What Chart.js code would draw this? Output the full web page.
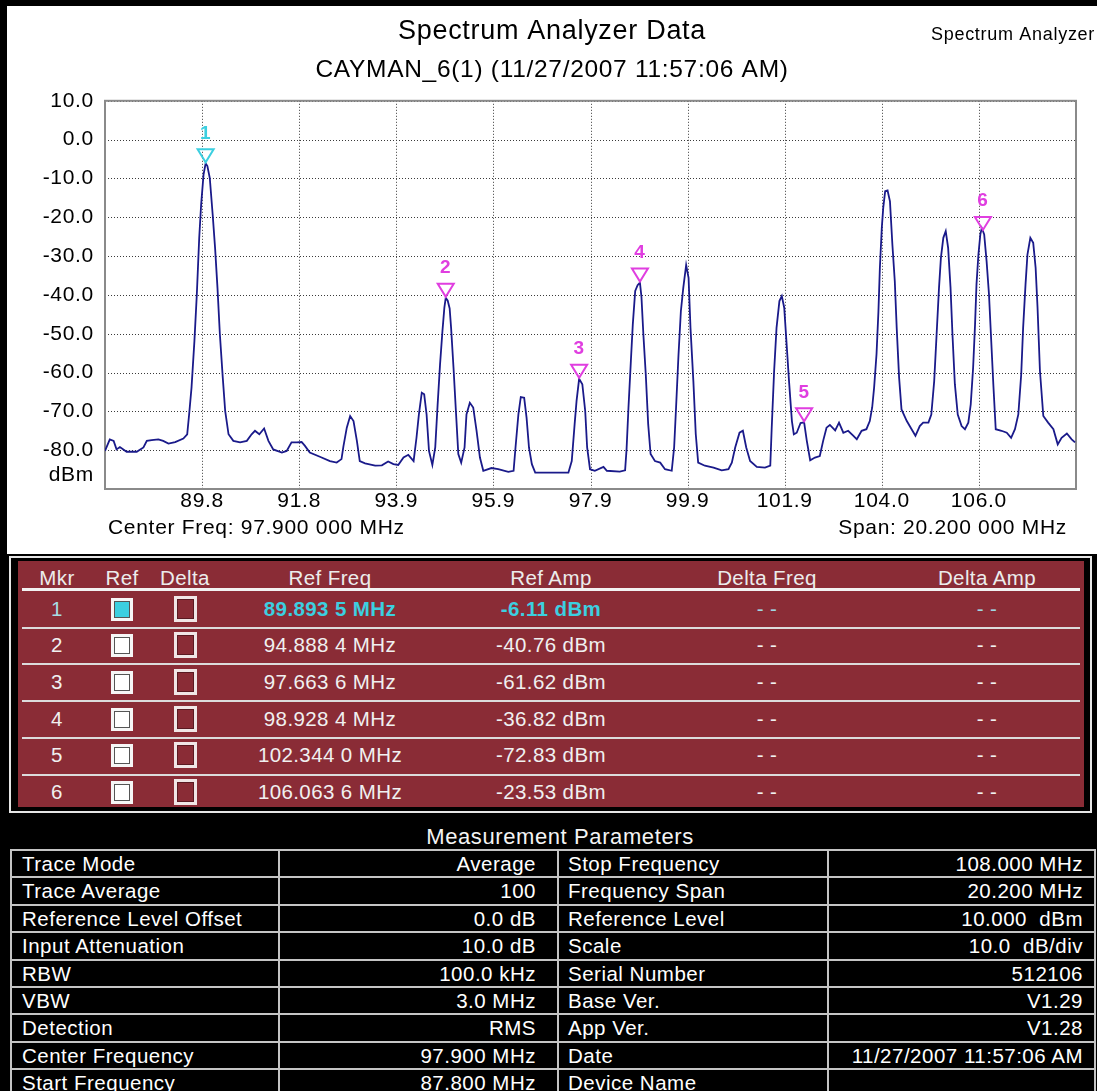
<!DOCTYPE html>
<html><head><meta charset="utf-8">
<script src="https://cdn.jsdelivr.net/npm/chart.js@4/dist/chart.umd.min.js"></script>
<style>
html,body{margin:0;padding:0;background:#000;width:1097px;height:1091px;overflow:hidden;font-family:"Liberation Sans",Arial,sans-serif;}
#chartBox{position:absolute;left:7px;top:6px;width:1090px;height:548px;background:#fff;}
#mk{position:absolute;left:9px;top:556px;width:1079px;height:253px;border:2px solid #e6e6e6;}
#mkIn{position:absolute;left:7px;top:3px;width:1066px;height:246px;background:#8a2c36;}
.c{position:absolute;text-align:center;white-space:pre;color:#f0f0f0;font-size:20.5px;letter-spacing:0.4px;}
.ln{position:absolute;background:#dcdcdc;}
.cb{position:absolute;box-sizing:border-box;}
.pc{position:absolute;white-space:pre;color:#fff;font-size:20.5px;letter-spacing:0.5px;}
.pl{position:absolute;background:#c4c4c4;}
</style>
</head><body>
<div id="chartBox"><canvas id="chart" width="1090" height="548"></canvas></div>
<div id="mk"><div id="mkIn"></div></div>
<div id="params"></div>
<script>
// ---------- trace data ----------
const freqMHz = [
87.80,87.90,87.98,88.04,88.11,88.25,88.46,88.60,88.67,88.77,88.91,89.01,89.12,89.26,89.43,89.51,89.55,89.60,89.66,89.71,89.76,89.80,89.85,89.8935,89.93,89.98,
90.04,90.09,90.14,90.19,90.25,90.30,90.37,90.47,90.61,90.75,90.85,90.92,91.01,91.11,91.20,91.30,91.48,91.58,91.68,91.79,91.89,91.96,
92.06,92.27,92.48,92.62,92.72,92.76,92.83,92.90,92.97,93.04,93.10,93.21,93.42,93.56,93.69,93.80,93.90,94.01,94.11,94.22,94.28,94.33,94.39,94.44,94.49,94.54,94.61,94.67,94.72,94.77,94.82,94.86,94.8884,94.93,94.97,
95.00,95.05,95.10,95.15,95.21,95.28,95.32,95.39,95.46,95.53,95.60,95.67,95.84,95.98,96.19,96.30,96.34,96.40,96.45,96.52,96.57,96.62,96.68,96.75,96.95,97.23,97.44,97.51,97.57,97.61,97.6636,97.73,97.79,97.83,97.89,97.99,
98.17,98.24,98.51,98.62,98.65,98.69,98.74,98.78,98.83,98.88,98.9284,98.96,99.00,99.05,99.10,99.15,99.24,99.35,99.45,99.59,99.64,99.68,99.73,99.78,99.83,99.89,99.94,99.98,
100.04,100.09,100.14,100.28,100.46,100.63,100.77,100.84,100.91,101.00,101.07,101.14,101.22,101.36,101.53,101.64,101.67,101.72,101.77,101.83,101.88,101.93,101.98,
102.03,102.09,102.13,102.19,102.27,102.344,102.40,102.47,102.57,102.67,102.74,102.81,102.88,102.99,103.07,103.16,103.26,103.37,103.44,103.54,103.64,103.71,103.76,103.80,103.85,103.89,103.92,103.96,103.99,
104.03,104.08,104.13,104.18,104.23,104.27,104.32,104.37,104.48,104.58,104.66,104.75,104.82,104.93,104.99,105.05,105.10,105.15,105.19,105.24,105.29,105.34,105.39,105.43,105.48,105.54,105.62,105.69,105.76,105.81,105.86,105.90,105.93,105.97,
106.01,106.04,106.0636,106.09,106.14,106.19,106.23,106.28,106.33,106.45,106.56,106.65,106.73,106.80,106.86,106.90,106.95,106.99,107.05,107.11,107.16,107.20,107.25,107.32,107.42,107.53,107.62,107.70,107.81,107.91,107.98
];
const ampDbm = [
-80.2,-77.2,-77.6,-79.8,-79.2,-80.4,-80.4,-79.3,-77.6,-77.4,-77.2,-77.6,-78.3,-77.9,-77.0,-75.9,-70.8,-63.9,-51.9,-39.9,-25.3,-16.7,-9.0,-6.11,-6.8,-9.9,
-19.3,-27.9,-38.2,-50.2,-61.3,-69.9,-75.9,-77.6,-78.0,-77.6,-75.9,-75.0,-75.9,-74.4,-77.6,-79.8,-80.6,-80.2,-78.0,-78.0,-77.9,-78.9,
-80.6,-81.7,-82.8,-83.2,-82.3,-79.0,-74.2,-71.2,-72.5,-77.6,-82.8,-83.4,-84.0,-83.9,-82.9,-83.6,-83.8,-81.9,-81.2,-82.8,-76.8,-70.8,-65.2,-65.6,-70.8,-80.2,-83.8,-79.3,-68.2,-57.9,-49.3,-43.3,-40.76,-41.5,-43.5,
-48.5,-58.7,-69.9,-81.0,-83.2,-79.3,-70.8,-67.8,-69.0,-75.0,-81.9,-85.3,-84.6,-84.9,-85.6,-85.3,-79.3,-70.8,-66.3,-66.5,-71.6,-79.3,-83.6,-85.8,-85.8,-85.8,-85.8,-82.8,-73.3,-67.3,-61.62,-63.0,-69.9,-79.3,-84.9,-85.3,
-84.3,-85.3,-85.5,-85.2,-79.8,-69.0,-57.0,-47.6,-39.0,-37.5,-36.82,-40.5,-50.2,-60.5,-73.3,-81.0,-82.8,-83.2,-84.9,-85.3,-79.3,-69.0,-55.6,-44.2,-38.2,-32.3,-35.6,-48.5,
-62.2,-75.9,-83.2,-84.0,-84.5,-85.2,-84.9,-83.2,-79.3,-75.5,-75.0,-79.3,-82.8,-84.3,-84.5,-84.0,-74.2,-59.6,-48.5,-41.6,-40.3,-43.3,-52.7,
-62.2,-72.5,-75.9,-75.5,-73.0,-72.83,-77.6,-82.6,-81.9,-81.5,-77.6,-74.2,-73.5,-74.9,-72.9,-75.5,-75.0,-76.3,-77.2,-75.0,-74.6,-72.5,-69.0,-63.9,-55.3,-44.2,-33.0,-22.7,-17.6,
-13.3,-13.1,-15.9,-27.0,-36.4,-48.5,-61.3,-69.5,-72.5,-74.6,-76.3,-73.8,-72.9,-72.9,-70.8,-62.2,-50.2,-38.2,-30.4,-25.3,-23.6,-27.9,-38.2,-50.2,-63.0,-70.8,-73.8,-74.6,-72.9,-68.2,-58.7,-47.6,-37.3,-29.6,
-24.4,-22.8,-23.53,-24.4,-31.3,-39.9,-50.2,-63.0,-74.6,-75.0,-75.5,-76.8,-74.6,-70.8,-60.5,-48.5,-37.3,-29.6,-25.3,-26.6,-33.0,-43.3,-59.6,-71.2,-72.9,-74.6,-78.5,-76.8,-75.7,-77.2,-78.0
];

// ---------- axes ----------
const xTickValues = [87.8,89.82,91.84,93.86,95.88,97.9,99.92,101.94,103.96,105.98,108.0];
const xTickLabels = ['','89.8','91.8','93.9','95.9','97.9','99.9','101.9','104.0','106.0',''];
const yTickValues = [-90,-80,-70,-60,-50,-40,-30,-20,-10,0,10];
const yTickLabels = ['','-80.0','-70.0','-60.0','-50.0','-40.0','-30.0','-20.0','-10.0','0.0','10.0'];

// ---------- markers ----------
const markerIds = [1,2,3,4,5,6];
const markerFreq = [89.8935,94.8884,97.6636,98.9284,102.3440,106.0636];
const markerAmp = [-6.11,-40.76,-61.62,-36.82,-72.83,-23.53];

// ---------- texts ----------
const titleText = 'Spectrum Analyzer Data';
const subtitleText = 'CAYMAN_6(1) (11/27/2007 11:57:06 AM)';
const cornerText = 'Spectrum Analyzer';
const centerFreqText = 'Center Freq: 97.900 000 MHz';
const spanText = 'Span: 20.200 000 MHz';
const unitText = 'dBm';

// ---------- parameters table ----------
const paramNamesL = ['Trace Mode','Trace Average','Reference Level Offset','Input Attenuation','RBW','VBW','Detection','Center Frequency','Start Frequency'];
const paramValsL = ['Average','100','0.0 dB','10.0 dB','100.0 kHz','3.0 MHz','RMS','97.900 MHz','87.800 MHz'];
const paramNamesR = ['Stop Frequency','Frequency Span','Reference Level','Scale','Serial Number','Base Ver.','App Ver.','Date','Device Name'];
const paramValsR = ['108.000 MHz','20.200 MHz','10.000  dBm','10.0  dB/div','512106','V1.29','V1.28','11/27/2007 11:57:06 AM',''];

const FONT = '"Liberation Sans", Arial, sans-serif';
const CYAN = '#3ccfe0';
const MAGENTA = '#e03ee0';

const spacingPlugin = {
  id:'spacing',
  beforeLayout(chart){ chart.ctx.letterSpacing = '0.7px'; },
  beforeDraw(chart){ chart.ctx.letterSpacing = '0.7px'; }
};
const gridPlugin = {
  id:'dotgrid',
  beforeDatasetsDraw(chart){
    const {ctx, chartArea:a} = chart; const xs = chart.scales.x, ys = chart.scales.y;
    ctx.save(); ctx.strokeStyle='#3a3a3a'; ctx.lineWidth=1; ctx.setLineDash([1,2]);
    xTickValues.forEach(v=>{
      const x = Math.round(xs.getPixelForValue(v))+0.5;
      ctx.beginPath(); ctx.moveTo(x,a.top); ctx.lineTo(x,a.bottom); ctx.stroke();
    });
    yTickValues.forEach(v=>{
      const y = Math.round(ys.getPixelForValue(v))+0.5;
      ctx.beginPath(); ctx.moveTo(a.left,y); ctx.lineTo(a.right,y); ctx.stroke();
    });
    ctx.setLineDash([]);
    ctx.strokeStyle='#8a8a8a'; ctx.lineWidth=2;
    ctx.strokeRect(a.left, a.top, a.right-a.left, a.bottom-a.top);
    ctx.restore();
  }
};
const markerPlugin = {
  id:'markers',
  afterDatasetsDraw(chart){
    const {ctx} = chart; const xs = chart.scales.x, ys = chart.scales.y;
    ctx.save();
    markerIds.forEach((id,i)=>{
      const x = xs.getPixelForValue(markerFreq[i]);
      const y = ys.getPixelForValue(markerAmp[i]);
      const col = i===0 ? CYAN : MAGENTA;
      ctx.strokeStyle = col; ctx.lineWidth = 2;
      ctx.beginPath(); ctx.moveTo(x-8,y-14); ctx.lineTo(x+8,y-14); ctx.lineTo(x,y-1); ctx.closePath(); ctx.stroke();
      ctx.fillStyle = col; ctx.font = 'bold 19px '+FONT; ctx.textAlign='center'; ctx.textBaseline='middle';
      ctx.fillText(String(id), x, y-30);
    });
    ctx.restore();
  }
};
const textPlugin = {
  id:'texts',
  afterDraw(chart){
    const {ctx, chartArea:a} = chart; const ys = chart.scales.y;
    ctx.save(); ctx.fillStyle='#000'; ctx.textBaseline='middle';
    ctx.font = '18px '+FONT; ctx.textAlign='right'; ctx.fillText(cornerText, 1088, 29);
    ctx.font = '21px '+FONT; ctx.textAlign='left'; ctx.fillText(centerFreqText, a.left+3, a.bottom+39);
    ctx.textAlign='right'; ctx.fillText(spanText, a.right-9, a.bottom+39);
    ctx.fillText(unitText, a.left-11, ys.getPixelForValue(-80)+25);
    ctx.restore();
  }
};

new Chart(document.getElementById('chart'), {
  type:'line',
  data:{datasets:[{data:freqMHz.map((f,i)=>({x:f,y:ampDbm[i]})), borderColor:'#1a1a8a', borderWidth:1.8, pointRadius:0, tension:0, fill:false}]},
  options:{
    responsive:false, animation:false, devicePixelRatio:1,
    layout:{padding:{left:0,right:0,top:0,bottom:0}},
    plugins:{
      legend:{display:false}, tooltip:{enabled:false},
      title:{display:true,text:titleText,color:'#000',font:{family:FONT,size:27,weight:'normal'},padding:{top:9,bottom:8}},
      subtitle:{display:true,text:subtitleText,color:'#000',font:{family:FONT,size:24.5,weight:'normal'},padding:{top:0,bottom:16}}
    },
    scales:{
      x:{type:'linear',min:87.8,max:108,
        afterBuildTicks:(s)=>{s.ticks = xTickValues.map(v=>({value:v}));},
        afterFit:(s)=>{s.height=65;},
        ticks:{autoSkip:false,maxRotation:0,color:'#000',font:{family:FONT,size:21},padding:0,callback:(v,i)=>xTickLabels[i]},
        grid:{display:false,drawTicks:false},
        border:{display:false}},
      y:{type:'linear',min:-90,max:10,
        afterBuildTicks:(s)=>{s.ticks = yTickValues.map(v=>({value:v}));},
        afterFit:(s)=>{s.width=98;},
        ticks:{autoSkip:false,color:'#000',font:{family:FONT,size:21},padding:11,callback:(v,i)=>yTickLabels[i]},
        grid:{display:false,drawTicks:false},
        border:{display:false}},
      yR:{type:'linear',position:'right',min:-90,max:10,
        afterFit:(s)=>{s.width=21;},
        ticks:{display:false},grid:{display:false},border:{display:false}}
    }
  },
  plugins:[spacingPlugin, gridPlugin, markerPlugin, textPlugin]
});

// ---------- marker table ----------
(function(){
  const box = document.getElementById('mkIn');
  const colX = [39,104,167,312,533,749,969];
  const heads = ['Mkr','Ref','Delta','Ref Freq','Ref Amp','Delta Freq','Delta Amp'];
  let h = '';
  heads.forEach((t,j)=>{ h += `<div class="c" style="left:${colX[j]-100}px;width:200px;top:5px;height:24px;line-height:24px;color:#ececec;">${t}</div>`; });
  h += `<div class="ln" style="left:4px;width:1058px;top:27px;height:3px;background:#f2f2f2"></div>`;
  const rowH = 36.7;
  markerIds.forEach((id,i)=>{
    const cy = 30 + rowH*i + 17.5;
    const first = i===0;
    const col = first ? CYAN : '#f0f0f0';
    const fw = first ? 'bold' : 'normal';
    const f = markerFreq[i].toFixed(4);
    const fTxt = f.slice(0,-1)+' '+f.slice(-1)+' MHz';
    const aTxt = markerAmp[i].toFixed(2)+' dBm';
    const cells = [String(id),'','',fTxt,aTxt,'- -','- -'];
    cells.forEach((t,j)=>{
      if(j===1||j===2) return;
      const c = (first && j===0) ? '#a8dce4' : (first && j>=5 ? '#9fd8e2' : col);
      h += `<div class="c" style="left:${colX[j]-100}px;width:200px;top:${cy-12}px;height:24px;line-height:24px;color:${c};font-weight:${j===3||j===4?fw:'normal'}">${t}</div>`;
    });
    h += `<div class="cb" style="left:93px;top:${cy-11}px;width:22px;height:23px;border:3px solid #f6f6f6;background:${first?CYAN:'#ffffff'};box-shadow:inset 0 0 0 1px #555"></div>`;
    h += `<div class="cb" style="left:156px;top:${cy-13}px;width:23px;height:26px;border:3px solid #f0e6e6;box-shadow:inset 0 0 0 1px #5a1a22"></div>`;
    if(i<5) h += `<div class="ln" style="left:4px;width:1058px;top:${30+rowH*(i+1)-1}px;height:2px"></div>`;
  });
  box.innerHTML = h;
})();

// ---------- parameters table ----------
(function(){
  const p = document.getElementById('params');
  let h = `<div class="pc" style="left:0;width:1120px;text-align:center;top:825px;height:24px;line-height:24px;font-size:22px;letter-spacing:0.6px;color:#f4f4f4">Measurement Parameters</div>`;
  const top0 = 849, rh = 27.4;
  const vx = [10,278,557,827,1094];
  for(let i=0;i<=paramNamesL.length;i++){
    h += `<div class="pl" style="left:10px;width:1086px;top:${top0+rh*i}px;height:2px"></div>`;
  }
  vx.forEach(x=>{ h += `<div class="pl" style="left:${x}px;width:2px;top:${top0}px;height:${1091-top0}px"></div>`; });
  paramNamesL.forEach((n,i)=>{
    const t = top0 + rh*i + 2, hh = rh-2;
    h += `<div class="pc" style="left:22px;top:${t}px;height:${hh}px;line-height:${hh}px">${n}</div>`;
    h += `<div class="pc" style="left:280px;width:256px;text-align:right;top:${t}px;height:${hh}px;line-height:${hh}px">${paramValsL[i]}</div>`;
    h += `<div class="pc" style="left:568px;top:${t}px;height:${hh}px;line-height:${hh}px">${paramNamesR[i]}</div>`;
    h += `<div class="pc" style="left:829px;width:254px;text-align:right;top:${t}px;height:${hh}px;line-height:${hh}px">${paramValsR[i]}</div>`;
  });
  p.innerHTML = h;
})();
</script>
</body></html>
